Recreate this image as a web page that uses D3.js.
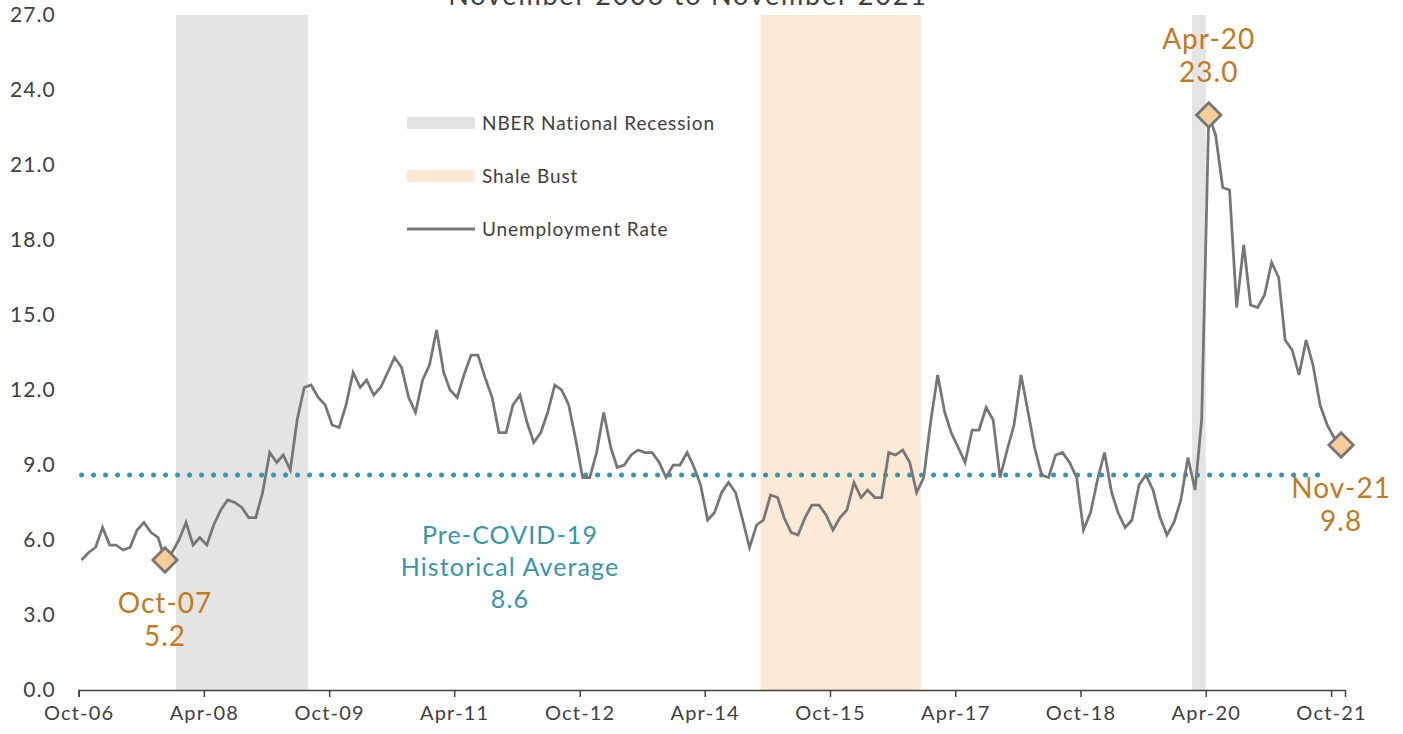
<!DOCTYPE html>
<html>
<head>
<meta charset="utf-8">
<script src="https://cdn.jsdelivr.net/npm/d3@7"></script>
<style>
  html, body { margin: 0; padding: 0; background: #fff; }
  svg { display: block; font-family: "Lato", "DejaVu Sans", sans-serif; }
</style>
</head>
<body>
<svg id="chart" width="1403" height="734"></svg>
<script>
// monthly unemployment rate, Oct-06 .. Nov-21
const startMonth = new Date(2006, 9, 1);
const rates = [
  5.2, 5.5, 5.7, 6.5, 5.8, 5.8, 5.6, 5.7, 6.4, 6.7, 6.3, 6.1,
  5.2, 5.5, 6.0, 6.7, 5.8, 6.1, 5.8, 6.6, 7.2, 7.6, 7.5, 7.3,
  6.9, 6.9, 7.9, 9.5, 9.1, 9.4, 8.8, 10.8, 12.1, 12.2, 11.7, 11.4,
  10.6, 10.5, 11.4, 12.7, 12.1, 12.4, 11.8, 12.1, 12.7, 13.3, 12.9, 11.7,
  11.1, 12.4, 13.0, 14.4, 12.7, 12.0, 11.7, 12.6, 13.4, 13.4, 12.5, 11.7,
  10.3, 10.3, 11.4, 11.8, 10.7, 9.9, 10.3, 11.1, 12.2, 12.0, 11.4, 10.0,
  8.5, 8.5, 9.5, 11.1, 9.7, 8.9, 9.0, 9.4, 9.6, 9.5, 9.5, 9.1,
  8.5, 9.0, 9.0, 9.5, 8.9, 8.2, 6.8, 7.1, 7.9, 8.3, 7.9, 6.8,
  5.7, 6.6, 6.8, 7.8, 7.7, 6.9, 6.3, 6.2, 6.9, 7.4, 7.4, 7.0,
  6.4, 6.9, 7.2, 8.3, 7.7, 8.0, 7.7, 7.7, 9.5, 9.4, 9.6, 9.1,
  7.9, 8.5, 10.7, 12.6, 11.1, 10.3, 9.7, 9.1, 10.4, 10.4, 11.3, 10.8,
  8.5, 9.6, 10.6, 12.6, 11.1, 9.7, 8.6, 8.5, 9.4, 9.5, 9.1, 8.5,
  6.4, 7.1, 8.4, 9.5, 7.9, 7.1, 6.5, 6.8, 8.2, 8.6, 8.0, 6.9,
  6.2, 6.7, 7.6, 9.3, 8.0, 10.8, 23.0, 22.2, 20.1, 20.0, 15.3, 17.8,
  15.4, 15.3, 15.8, 17.1, 16.5, 14.0, 13.6, 12.6, 14.0, 13.0, 11.4, 10.6,
  10.1, 9.8
];
const historicalAverage = 8.6;

const recessions = [
  { start: new Date(2007, 11, 1), end: new Date(2009, 6, 1) },
  { start: new Date(2020, 1, 1), end: new Date(2020, 3, 1) }
];
const shaleBust = [{ start: new Date(2014, 11, 1), end: new Date(2016, 10, 1) }];

const xTickDates = d3.range(0, 181, 18).map(m => new Date(2006, 9 + m, 1));
const yTicks = d3.range(0, 27.1, 3);

// points highlighted with a diamond + label
const callouts = [
  { month: 12, label: "Oct-07", pos: "below" },
  { month: 162, label: "Apr-20", pos: "above" },
  { month: 181, label: "Nov-21", pos: "below" }
];

const data = rates.map((v, i) => ({ date: new Date(2006, 9 + i, 14), value: v }));

const colors = {
  line: "#767676",
  recession: "#e4e4e4",
  shale: "#f9e9d6",
  avg: "#3596ae",
  callout: "#c5791d",
  diamond: "#f6cd98",
  text: "#404040"
};

const svg = d3.select("#chart");
const margin = { top: 15, right: 58, bottom: 44, left: 78.6 };
const W = 1403, H = 734;

const x = d3.scaleTime()
  .domain([startMonth, new Date(2021, 11, 1)])
  .range([margin.left, W - margin.right]);

const y = d3.scaleLinear()
  .domain([0, 27])
  .range([H - margin.bottom, margin.top]);

// title (mostly cut off at top)
svg.append("text")
  .attr("x", 688)
  .attr("y", 5)
  .attr("text-anchor", "middle")
  .style("font-size", "27px")
  .style("letter-spacing", "1.8px")
  .style("fill", colors.text)
  .text("November 2006 to November 2021");

// shaded periods
svg.append("g")
  .selectAll("rect")
  .data(recessions.map(d => ({ ...d, fill: colors.recession }))
    .concat(shaleBust.map(d => ({ ...d, fill: colors.shale }))))
  .join("rect")
  .attr("x", d => x(d.start))
  .attr("width", d => x(d.end) - x(d.start))
  .attr("y", y(27))
  .attr("height", y(0) - y(27))
  .attr("fill", d => d.fill);

// y axis labels
svg.append("g")
  .attr("transform", `translate(${margin.left},0)`)
  .call(d3.axisLeft(y).tickValues(yTicks).tickSize(0).tickPadding(23).tickFormat(d3.format(".1f")))
  .call(g => g.select(".domain").remove())
  .selectAll("text")
  .style("font-size", "21px")
  .style("letter-spacing", "1px")
  .style("fill", colors.text)
  .style("font-family", "Lato, sans-serif");

// x axis
svg.append("g")
  .attr("transform", `translate(0,${y(0)})`)
  .call(d3.axisBottom(x).tickValues(xTickDates).tickSize(7).tickPadding(9).tickFormat(d3.timeFormat("%b-%y")))
  .call(g => g.select(".domain").attr("stroke", "#404040").attr("stroke-width", 1.5))
  .call(g => g.selectAll(".tick line").attr("stroke", "#404040").attr("stroke-width", 1.5))
  .selectAll("text")
  .style("font-size", "20px")
  .style("letter-spacing", "1.2px")
  .style("fill", colors.text)
  .style("font-family", "Lato, sans-serif");

// historical average dotted line
svg.append("line")
  .attr("x1", x(data[0].date))
  .attr("x2", x(data[179].date))
  .attr("y1", y(historicalAverage))
  .attr("y2", y(historicalAverage))
  .attr("stroke", colors.avg)
  .attr("stroke-width", 5)
  .attr("stroke-linecap", "round")
  .attr("stroke-dasharray", "0 12");

// unemployment line
const line = d3.line()
  .x(d => x(d.date))
  .y(d => y(d.value));

svg.append("path")
  .datum(data)
  .attr("fill", "none")
  .attr("stroke", colors.line)
  .attr("stroke-width", 2.75)
  .attr("stroke-linejoin", "miter")
  .attr("d", line);

// diamonds
const diamond = d3.symbol().type(d3.symbolSquare).size(300);
svg.append("g")
  .selectAll("path")
  .data(callouts)
  .join("path")
  .attr("d", diamond)
  .attr("transform", d => `translate(${x(data[d.month].date)},${y(data[d.month].value)}) rotate(45)`)
  .attr("fill", colors.diamond)
  .attr("stroke", colors.line)
  .attr("stroke-width", 2.75);

// callout labels
const cl = svg.append("g")
  .selectAll("text")
  .data(callouts)
  .join("text")
  .attr("text-anchor", "middle")
  .style("font-size", "28px")
  .style("letter-spacing", "1px")
  .style("fill", colors.callout)
  .attr("transform", d => {
    const px = x(data[d.month].date), py = y(data[d.month].value);
    return d.pos === "above" ? `translate(${px},${py - 66})` : `translate(${px},${py + 53})`;
  });
cl.append("tspan")
  .attr("x", 0)
  .attr("dy", 0)
  .text(d => d.label);
cl.append("tspan")
  .attr("x", 0)
  .attr("dy", 33)
  .text(d => data[d.month].value.toFixed(1));

// average annotation
const avgLabel = svg.append("text")
  .attr("text-anchor", "middle")
  .style("font-size", "25px")
  .style("letter-spacing", "1.1px")
  .style("fill", colors.avg)
  .attr("transform", `translate(${x(new Date(2011, 11, 1))},${y(historicalAverage) + 69})`);
["Pre-COVID-19", "Historical Average", d3.format(".1f")(historicalAverage)].forEach((t, i) => {
  avgLabel.append("tspan").attr("x", 0).attr("dy", i === 0 ? 0 : 32).text(t);
});

// legend
const legendItems = [
  { label: "NBER National Recession", type: "rect", color: colors.recession },
  { label: "Shale Bust", type: "rect", color: colors.shale },
  { label: "Unemployment Rate", type: "line", color: colors.line }
];
const legend = svg.append("g").attr("transform", "translate(407,123)");
const li = legend.selectAll("g")
  .data(legendItems)
  .join("g")
  .attr("transform", (d, i) => `translate(0,${i * 53})`);
li.filter(d => d.type === "rect")
  .append("rect")
  .attr("x", 0).attr("y", -6).attr("width", 68).attr("height", 12)
  .attr("fill", d => d.color);
li.filter(d => d.type === "line")
  .append("line")
  .attr("x1", 0).attr("x2", 68).attr("y1", 0).attr("y2", 0)
  .attr("stroke", d => d.color).attr("stroke-width", 3);
li.append("text")
  .attr("x", 75)
  .attr("dy", "0.35em")
  .style("font-size", "19px")
  .style("letter-spacing", "0.9px")
  .style("fill", colors.text)
  .text(d => d.label);
</script>
</body>
</html>
